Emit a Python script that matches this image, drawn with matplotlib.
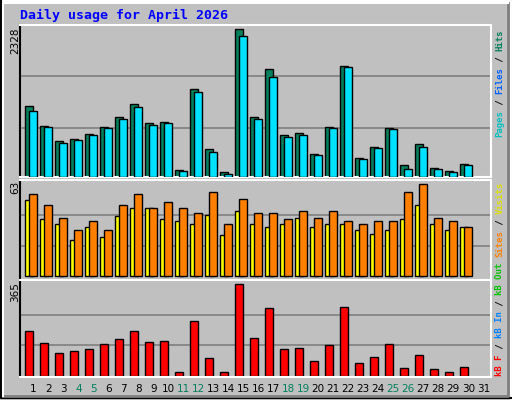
import matplotlib
matplotlib.use("Agg")
import matplotlib.pyplot as plt
from matplotlib.lines import Line2D

days = list(range(1, 32))
hits = [1127, 811, 574, 606, 685, 795, 938, 1143, 859, 874, 116, 1380, 448, 84, 2328,
        953, 1696, 669, 700, 369, 795, 1743, 305, 479, 780, 195, 527, 147, 100, 211]
files = [1048, 795, 543, 590, 669, 780, 922, 1111, 827, 859, 100, 1333, 400, 53, 2217,
         922, 1570, 637, 669, 353, 780, 1728, 290, 464, 764, 132, 479, 132, 84, 195]
visits = [52, 39, 36, 25, 34, 27, 41, 47, 47, 39, 38, 36, 42, 28, 45,
          36, 34, 36, 40, 34, 36, 36, 32, 29, 32, 39, 49, 36, 32, 34]
sites = [56, 49, 40, 32, 38, 32, 49, 56, 47, 51, 47, 43, 58, 36, 53,
         43, 43, 39, 45, 40, 45, 38, 36, 38, 38, 58, 63, 40, 38, 34]
kbytes = [177, 129, 89, 97, 105, 125, 145, 177, 133, 137, 13, 217, 69, 13, 365,
          149, 269, 105, 109, 57, 121, 273, 49, 73, 125, 29, 81, 25, 13, 33]
weekend = [4, 5, 11, 12, 18, 19, 25, 26]

W, H = 512, 400
fig = plt.figure(figsize=(5.12, 4.0), dpi=100)
fig.patch.set_facecolor("#c0c0c0")

def fx(px): return px / W
def fy(py): return 1 - py / H

fig.add_artist(Line2D([fx(1), fx(511), fx(511)], [fy(1), fy(1), fy(399)], color="white", lw=1.5, transform=fig.transFigure))
fig.add_artist(Line2D([fx(1), fx(1), fx(511)], [fy(1), fy(398), fy(398)], color="black", lw=1.5, transform=fig.transFigure))
fig.add_artist(Line2D([fx(3), fx(508), fx(508)], [fy(396), fy(396), fy(3)], color="#808080", lw=2, transform=fig.transFigure))
fig.add_artist(Line2D([fx(3), fx(3), fx(508)], [fy(396), fy(3), fy(3)], color="white", lw=1.5, transform=fig.transFigure))

fig.text(fx(20), fy(15), "Daily usage for April 2026", color="#0000ff", fontsize=9.5,
         family="DejaVu Sans Mono", fontweight="bold", va="center", ha="left")

xl = (0.113, 31.51)

def panel(top, bottom, ylim, grid):
    ax = fig.add_axes([fx(20), fy(bottom), fx(491) - fx(20), fy(top) - fy(bottom)])
    ax.set_facecolor("#c0c0c0")
    ax.set_xlim(*xl)
    ax.set_ylim(*ylim)
    for g in grid:
        ax.axhline(g, color="#808080", lw=1.2, zorder=0)
    ax.set_xticks([]); ax.set_yticks([])
    for s in ("top", "right", "bottom"):
        ax.spines[s].set_color("white"); ax.spines[s].set_linewidth(1.5)
    ax.spines["left"].set_color("black"); ax.spines["left"].set_linewidth(1.5)
    return ax

x = days[:len(hits)]
w = 0.49

ax1 = panel(25, 177, (0, 2396), [780, 1590])
ax1.bar([d - 0.533 for d in x], hits, width=w, align="edge", color="#00805c", edgecolor="black", lw=1, zorder=2)
ax1.bar([d - 0.27 for d in x], files, width=w, align="edge", color="#00e0ff", edgecolor="black", lw=1, zorder=3)

ax2 = panel(180, 280, (-2.5, 65.9), [21, 42])
ax2.bar([d - 0.533 for d in x], visits, width=w, align="edge", color="#ffff00", edgecolor="black", lw=1, zorder=2)
ax2.bar([d - 0.27 for d in x], sites, width=w, align="edge", color="#ff8000", edgecolor="black", lw=1, zorder=3)

ax3 = panel(280, 377, (-5, 382), [122, 243])
ax3.bar([d - 0.533 for d in x], kbytes, width=w, align="edge", color="#ff0000", edgecolor="black", lw=1, zorder=2)

for txt, py in (("2328", 27), ("63", 181), ("365", 282)):
    fig.text(fx(15), fy(py), txt, rotation=90, fontsize=7.5, va="top", ha="center", family="DejaVu Sans")

for d in days:
    fig.text(fx(33.3 + 15 * (d - 1)), fy(389), str(d), fontsize=7.5, ha="center", va="center",
             color="#00805c" if d in weekend else "black", family="DejaVu Sans")

cw = 5.4
def rlabel(y_bottom, parts):
    y = y_bottom
    for t, c in parts:
        fig.text(fx(500), fy(y), t, rotation=90, fontsize=6.5, family="DejaVu Sans Mono",
                 fontweight="bold", color=c, ha="center", va="bottom")
        y -= cw * len(t)

rlabel(137, [("Pages", "#00c0c0"), (" / ", "black"), ("Files", "#0060ff"), (" / ", "black"), ("Hits", "#00805c")])
rlabel(257, [("Sites", "#ff8000"), (" / ", "black"), ("Visits", "#e0e000")])
rlabel(376, [("kB F", "#ff0000"), (" / ", "black"), ("kB In", "#0080ff"), (" / ", "black"), ("kB Out", "#00c000")])

fig.savefig("out.png", dpi=100, facecolor=fig.get_facecolor())
